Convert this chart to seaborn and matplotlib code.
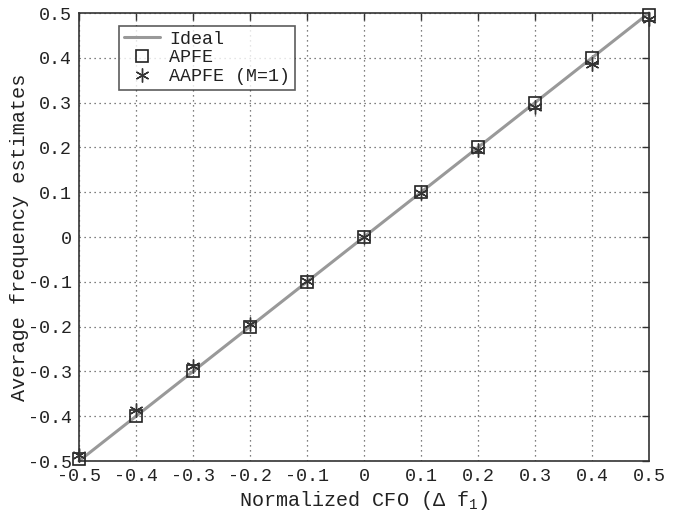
import matplotlib
matplotlib.use("Agg")
import matplotlib.pyplot as plt
import seaborn as sns
import pandas as pd
import numpy as np

cfo = [-0.5, -0.4, -0.3, -0.2, -0.1, 0.0, 0.1, 0.2, 0.3, 0.4, 0.5]
ideal = [-0.5, -0.4, -0.3, -0.2, -0.1, 0.0, 0.1, 0.2, 0.3, 0.4, 0.5]
apfe = [-0.495, -0.4, -0.3, -0.2, -0.1, 0.0, 0.1, 0.2, 0.3, 0.4, 0.495]
aapfe = [-0.487, -0.387, -0.287, -0.195, -0.099, 0.0, 0.099, 0.195, 0.29, 0.387, 0.487]
ticks = [-0.5, -0.4, -0.3, -0.2, -0.1, 0, 0.1, 0.2, 0.3, 0.4, 0.5]
tick_labels = ["-0.5", "-0.4", "-0.3", "-0.2", "-0.1", "0", "0.1", "0.2", "0.3", "0.4", "0.5"]

sns.set_theme(style="white")
plt.rcParams['font.family'] = ['Liberation Mono', 'DejaVu Sans']
plt.rcParams['mathtext.fontset'] = 'custom'
plt.rcParams['mathtext.rm'] = 'Liberation Mono'
plt.rcParams['mathtext.it'] = 'Liberation Mono'

df = pd.DataFrame({"cfo": cfo, "ideal": ideal, "apfe": apfe, "aapfe": aapfe})

fig = plt.figure(figsize=(6.89, 5.17), dpi=100)
ax = fig.add_axes([79/689, 1 - 461/517, 570/689, 448/517])

sns.lineplot(data=df, x="cfo", y="ideal", ax=ax, color="#999999", linewidth=2.2,
             label="Ideal", clip_on=False)
ax.plot(df["cfo"], df["apfe"], linestyle="none", marker="s", markersize=9,
        markerfacecolor="none", markeredgecolor="#222222", markeredgewidth=1.2,
        label="APFE", clip_on=False, zorder=4)
ax.plot(df["cfo"], df["aapfe"], linestyle="none", marker=(6, 2, 0), markersize=10,
        markeredgecolor="#333333", markeredgewidth=1.0, label="AAPFE (M=1)",
        clip_on=False, zorder=5)

ax.set_xlim(-0.5, 0.5)
ax.set_ylim(-0.5, 0.5)
ax.set_xticks(ticks)
ax.set_xticklabels(tick_labels)
ax.set_yticks(ticks)
ax.set_yticklabels(tick_labels)
ax.grid(True, linestyle=(0, (1, 3)), color="#555555", linewidth=0.9)
ax.tick_params(direction="in", length=5, width=1, color="#333333", top=True, right=True,
               labelsize=13.2, labelcolor="#222222", pad=5)
for s in ax.spines.values():
    s.set_color("#333333")
    s.set_linewidth(1.2)
ax.set_xlabel(r"Normalized CFO ($\Delta$ f$_1$)", fontsize=14.5, color="#222222", labelpad=3)
ax.set_ylabel("Average frequency estimates", fontsize=14.5, color="#222222", labelpad=-1)

leg = ax.legend(loc="upper left", bbox_to_anchor=(40/570, 1 - 13/448), fontsize=13.2,
                frameon=True, fancybox=False, edgecolor="#333333", handlelength=2.0,
                borderpad=0.25, labelspacing=0.1, handletextpad=0.5, borderaxespad=0)
leg.get_frame().set_linewidth(1.2)
for t in leg.get_texts():
    t.set_color("#222222")

fig.savefig("out.png", dpi=100)
